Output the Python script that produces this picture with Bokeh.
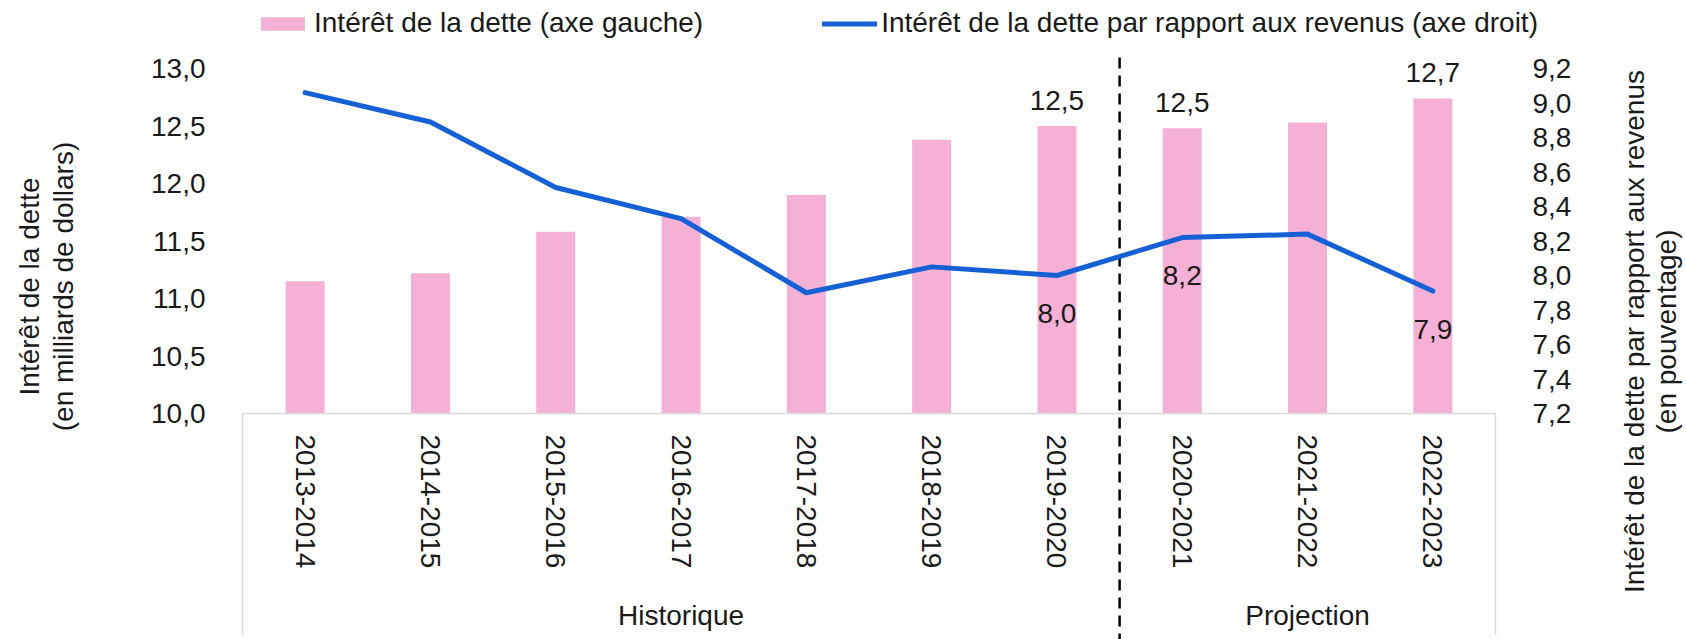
import math
from bokeh.plotting import figure
from bokeh.models import (ColumnDataSource, Range1d, LinearAxis, FixedTicker,
                          CustomJSTickFormatter, LabelSet, Label, Legend, LegendItem)
from bokeh.core.properties import value
from bokeh.embed import file_html
from bokeh.resources import INLINE

# ---------------- data ----------------
periods = ["2013-2014", "2014-2015", "2015-2016", "2016-2017", "2017-2018",
           "2018-2019", "2019-2020", "2020-2021", "2021-2022", "2022-2023"]
groups = ["Historique"] * 7 + ["Projection"] * 3
interest = [11.15, 11.22, 11.58, 11.71, 11.90, 12.38, 12.50, 12.48, 12.53, 12.74]
ratio = [9.06, 8.89, 8.51, 8.33, 7.90, 8.05, 8.00, 8.22, 8.24, 7.91]
labelled = [6, 7, 9]
left_ticks = [10.0, 10.5, 11.0, 11.5, 12.0, 12.5, 13.0]
right_ticks = [7.2, 7.4, 7.6, 7.8, 8.0, 8.2, 8.4, 8.6, 8.8, 9.0, 9.2]
legend_bar = "Intérêt de la dette (axe gauche)"
legend_line = "Intérêt de la dette par rapport aux revenus (axe droit)"
left_title = ["Intérêt de la dette", "(en milliards de dollars)"]
right_title = ["Intérêt de la dette par rapport aux revenus", "(en pouventage)"]

# ---------------- style / layout (pixels) ----------------
FONT = "Liberation Sans"
FS = "28px"
TXT = "#1a1a1a"
PINK = "#F4B0D5"
BLUE = "#1560D4"
GRID = "#D9D9D9"

W, H = 1686, 639
PX_LEFT, PX_RIGHT = 242, 1495          # plot area left / right
PX_TOP, PX_BASE = 68, 413              # plot area top / baseline
n = len(periods)
cw = (PX_RIGHT - PX_LEFT) / n          # pixels per category
lmin, lmax = left_ticks[0], left_ticks[-1]
rmin, rmax = right_ticks[0], right_ticks[-1]
ppu_l = (PX_BASE - PX_TOP) / (lmax - lmin)
ppu_r = (PX_BASE - PX_TOP) / (rmax - rmin)

x_range = Range1d(-PX_LEFT / cw, (W - PX_LEFT) / cw)
y_range = Range1d(lmin - (H - PX_BASE) / ppu_l, lmax + PX_TOP / ppu_l)
y_right = Range1d(rmin - (H - PX_BASE) / ppu_r, rmax + PX_TOP / ppu_r)

p = figure(width=W, height=H, x_range=x_range, y_range=y_range,
           x_axis_location=None, y_axis_location=None,
           output_backend="svg", toolbar_location=None, min_border=0)
p.outline_line_color = None
p.grid.visible = False
p.background_fill_color = "white"
p.border_fill_color = "white"
p.extra_y_ranges = {"right": y_right}

xpos = [i + 0.5 for i in range(n)]
src = ColumnDataSource(dict(x=xpos, interest=interest, ratio=ratio))

# category box edges and separator (structure, under the marks)
n_hist = groups.count("Historique")
box_bottom = lmin - (634 - PX_BASE) / ppu_l
p.segment(x0=[0, n], y0=[lmin, lmin], x1=[0, n], y1=[box_bottom, box_bottom],
          line_color=GRID, line_width=1.5)
p.segment(x0=[n_hist], y0=[lmax + (PX_TOP - 57) / ppu_l], x1=[n_hist], y1=[y_range.start],
          line_color="black", line_width=2.5, line_dash="11 7")

bars = p.vbar(x="x", top="interest", bottom=lmin, width=39 / cw, source=src,
              fill_color=PINK, line_color=None)
line = p.line(x="x", y="ratio", source=src, y_range_name="right",
              line_color=BLUE, line_width=5, line_cap="round", line_join="round")

fmt = CustomJSTickFormatter(code="return tick.toFixed(1).replace('.', ',');")


def style_axis(ax, standoff):
    ax.axis_line_color = None
    ax.major_tick_line_color = None
    ax.minor_tick_line_color = None
    ax.major_tick_out = 0
    ax.major_tick_in = 0
    ax.major_label_standoff = standoff
    ax.major_label_text_font = FONT
    ax.major_label_text_font_size = FS
    ax.major_label_text_color = TXT


la = LinearAxis(ticker=FixedTicker(ticks=left_ticks), formatter=fmt, fixed_location=0)
style_axis(la, 37)
p.add_layout(la, "left")

ra = LinearAxis(y_range_name="right", ticker=FixedTicker(ticks=right_ticks), formatter=fmt,
                fixed_location=n)
style_axis(ra, 37)
p.add_layout(ra, "right")

xa = LinearAxis(ticker=FixedTicker(ticks=xpos), fixed_location=lmin, bounds=(0, n),
                formatter=CustomJSTickFormatter(args=dict(labels=periods),
                                                code="return labels[Math.floor(tick)] || '';"))
style_axis(xa, 21)
xa.axis_line_color = GRID
xa.axis_line_width = 1.5
xa.major_label_orientation = "vertical"
p.add_layout(xa, "below")

# group labels
for g in ["Historique", "Projection"]:
    idx = [i for i, gg in enumerate(groups) if gg == g]
    p.add_layout(Label(x=(idx[0] + idx[-1] + 1) / 2, y=H - 615, y_units="screen", text=g,
                       text_align="center", text_baseline="middle",
                       text_font=FONT, text_font_size=FS, text_color=TXT))

# value labels
bar_lab = ColumnDataSource(dict(x=[xpos[i] for i in labelled],
                                y=[interest[i] for i in labelled],
                                t=[f"{interest[i]:.1f}".replace(".", ",") for i in labelled]))
line_lab = ColumnDataSource(dict(x=[xpos[i] for i in labelled],
                                 y=[ratio[i] for i in labelled],
                                 t=[f"{ratio[i]:.1f}".replace(".", ",") for i in labelled]))
p.add_layout(LabelSet(x="x", y="y", text="t", source=bar_lab, y_offset=26,
                      text_align="center", text_baseline="middle",
                      text_font=value(FONT), text_font_size=value(FS), text_color=TXT))
p.add_layout(LabelSet(x="x", y="y", text="t", source=line_lab, y_range_name="right",
                      y_offset=-38, text_align="center", text_baseline="middle",
                      text_font=value(FONT), text_font_size=value(FS), text_color=TXT))

# axis titles
for t, xx in zip(left_title, [29, 63]):
    p.add_layout(Label(x=xx, y=H - 286, x_units="screen", y_units="screen",
                       text=t, angle=math.pi / 2, text_align="center", text_baseline="middle",
                       text_font=FONT, text_font_size=FS, text_color=TXT))
for t, xx in zip(right_title, [1634, 1666]):
    p.add_layout(Label(x=xx, y=H - 331, x_units="screen", y_units="screen",
                       text=t, angle=math.pi / 2, text_align="center", text_baseline="middle",
                       text_font=FONT, text_font_size=FS, text_color=TXT))

legend = Legend(items=[LegendItem(label=legend_bar, renderers=[bars]),
                       LegendItem(label=legend_line, renderers=[line])],
                orientation="horizontal", location=(255, H - 39),
                glyph_width=55, glyph_height=17, label_standoff=4, spacing=119,
                padding=0, margin=0, border_line_color=None, background_fill_alpha=0,
                label_text_font=FONT, label_text_font_size=FS, label_text_color=TXT,
                label_height=17)
p.add_layout(legend)

open("out.html", "w").write(file_html(p, INLINE))
